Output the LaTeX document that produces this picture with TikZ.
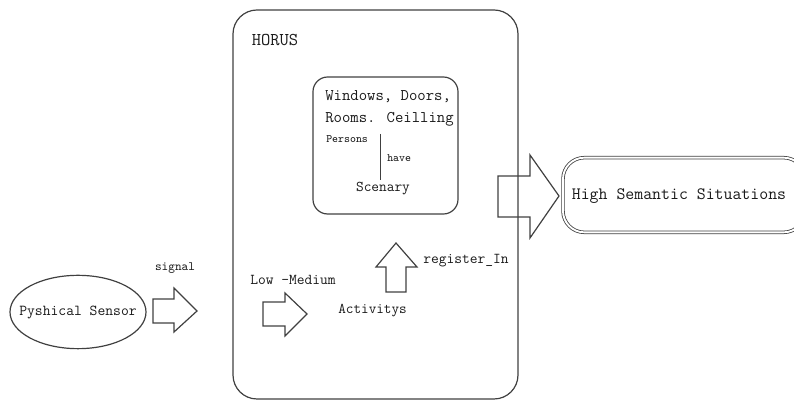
\documentclass[tikz,border=0pt]{standalone}
\usepackage{fontspec}
\usetikzlibrary{shapes.geometric}
\newcommand{\linecolor}{black!75}
\newcommand{\thick}{0.9pt}
\newcommand{\mono}[1]{\ttfamily\addfontfeature{FakeBold=1.2}\fontsize{#1}{#1}\selectfont}

\begin{document}
\begin{tikzpicture}[x=0.75pt,y=-0.75pt,
  txt/.style={inner sep=0pt,text=black!90},
  blk/.style={draw=\linecolor,line width=\thick,line join=miter}]
\useasboundingbox (0,0) rectangle (794,402);
% boxes
\node[blk,rounded corners=18pt,minimum width=213.75pt,minimum height=291.75pt] (horus) at (375.5,204.5) {};
\node[blk,rounded corners=11pt,minimum width=108.75pt,minimum height=102.75pt] (scene) at (385.5,145.5) {};
\node[draw=\linecolor,double,double distance=1.4pt,line width=0.6pt,rounded corners=16pt,minimum width=181.5pt,minimum height=56pt] (high) at (684,195) {};
\node[blk,ellipse,minimum width=102pt,minimum height=55pt] (sensor) at (78,312) {};
% texts
\node[txt,font=\mono{13.5}] (horuslbl) at (275,40) {HORUS};
\node[txt,anchor=west,font=\mono{12.2}] (win) at (325,97) {Windows, Doors,};
\node[txt,anchor=west,font=\mono{12.2}] (rooms) at (325,119) {Rooms. Ceilling};
\node[txt,anchor=west,font=\mono{8.5}] (persons) at (326,139) {Persons};
\node[txt,anchor=west,font=\mono{8.5}] (have) at (387,158) {have};
\node[txt,font=\mono{11.2}] (scenary) at (383,189) {Scenary};
\node[txt,font=\mono{13}] (highlbl) at (679,196) {High Semantic Situations};
\node[txt,font=\mono{11.4}] (sensorlbl) at (78,313) {Pyshical Sensor};
\node[txt,font=\mono{9.5}] (signal) at (175,268) {signal};
\node[txt,anchor=west,font=\mono{11.3}] (lowmed) at (250,280) {Low -Medium};
\node[txt,anchor=west,font=\mono{11.1}] (activ) at (338,311) {Activitys};
\node[txt,anchor=west,font=\mono{11.3}] (reg) at (423,261) {register\_In};
% have line
\coordinate (haveTop) at (380,134);
\coordinate (haveBot) at (380,180);
\draw[\linecolor,line width=0.7pt] (haveTop) -- (haveBot);
% block arrows
\draw[blk] (153,299) -- (174,299) -- (174,288) -- (197,311) -- (174,332) -- (174,323) -- (153,323) -- cycle;
\draw[blk] (263,302) -- (285,302) -- (285,293) -- (307,314) -- (285,336) -- (285,326) -- (263,326) -- cycle;
\draw[blk] (386,292) -- (386,267) -- (376,267) -- (396,243) -- (417,267) -- (406,267) -- (406,292) -- cycle;
\draw[blk] (498,176) -- (530,176) -- (530,155) -- (559,196) -- (530,238) -- (530,217) -- (498,217) -- cycle;
\end{tikzpicture}
\end{document}
